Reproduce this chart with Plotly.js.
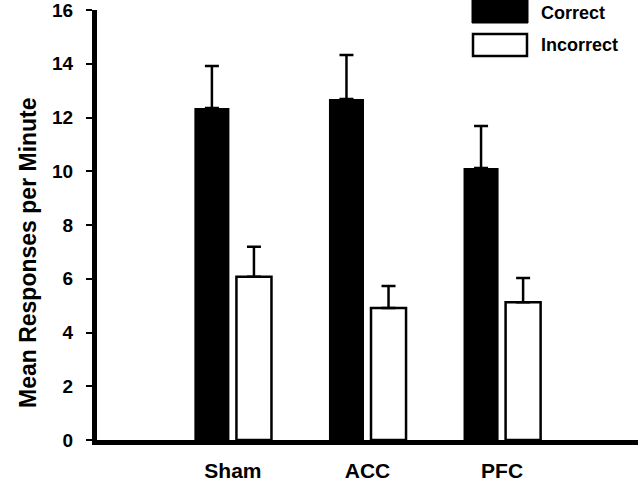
<!DOCTYPE html>
<html>
<head>
<meta charset="utf-8">
<script src="https://cdn.plot.ly/plotly-3.0.1.min.js"></script>
<style>html,body{margin:0;padding:0;background:#fff;}#chart{width:640px;height:484px;}</style>
</head>
<body>
<div id="chart"></div>
<script>
const categories = ["Sham", "ACC", "PFC"];
const seriesNames = ["Correct", "Incorrect"];
const correctMeans = [12.35, 12.69, 10.12];
const correctSE = [1.57, 1.64, 1.56];
const incorrectMeans = [6.07, 4.91, 5.13];
const incorrectSE = [1.12, 0.82, 0.90];
const yTicks = [0, 2, 4, 6, 8, 10, 12, 14, 16];

const FONT = "Liberation Sans, Arial, Helvetica, sans-serif";
const errStyle = {type: "data", symmetric: false, thickness: 2.5, width: 7, color: "#000"};

const traces = [
  {
    type: "bar", name: seriesNames[0], x: categories, y: correctMeans,
    marker: {color: "#000", line: {color: "#000", width: 0}},
    error_y: Object.assign({array: correctSE, arrayminus: correctSE.map(() => 0)}, errStyle),
    showlegend: false
  },
  {
    type: "bar", name: seriesNames[1], x: categories, y: incorrectMeans,
    marker: {color: "#fff", line: {color: "#000", width: 2.5}},
    error_y: Object.assign({array: incorrectSE, arrayminus: incorrectSE.map(() => 0)}, errStyle),
    showlegend: false
  }
];

// pixel helpers for legend placement (plot area: x 97..638, y 10..440)
const L = 97, R = 2, T = 10, B = 44, W = 640 - L - R, H = 484 - T - B;
const px = v => (v - L) / W;
const py = v => (440 - v) / H;

const layout = {
  width: 640, height: 484,
  margin: {l: L, r: R, t: T, b: B},
  paper_bgcolor: "#fff", plot_bgcolor: "#fff",
  barmode: "group", bargap: 0.375, bargroupgap: 0.167,
  showlegend: false,
  font: {family: FONT, color: "#000"},
  xaxis: {
    type: "category", range: [-1.01, 3.01],
    showline: true, linecolor: "#000", linewidth: 5,
    ticks: "", showgrid: false, zeroline: false,
    tickfont: {family: FONT, size: 21, weight: "bold", color: "#000"},
    ticklabelstandoff: 8
  },
  yaxis: {
    range: [0, 16], tickvals: yTicks, ticktext: yTicks.map(String),
    showline: true, linecolor: "#000", linewidth: 5,
    ticks: "outside", ticklen: 6, tickwidth: 2, tickcolor: "#000",
    showgrid: false, zeroline: false,
    tickfont: {family: FONT, size: 19, weight: "bold", color: "#000"},
    ticklabelstandoff: 9, ticklabeloverflow: "allow"
  },
  shapes: [
    {type: "rect", xref: "paper", yref: "paper", x0: px(472), x1: px(528), y0: py(23), y1: py(0),
     fillcolor: "#000", line: {color: "#000", width: 1}},
    {type: "rect", xref: "paper", yref: "paper", x0: px(473), x1: px(527), y0: py(56), y1: py(34),
     fillcolor: "#fff", line: {color: "#000", width: 2.5}}
  ],
  annotations: [
    {text: "Mean Responses per Minute", textangle: -90, xref: "paper", yref: "paper",
     x: px(28), y: py(253), xanchor: "center", yanchor: "middle", showarrow: false,
     font: {family: FONT, size: 23, weight: "bold", color: "#000"}},
    {text: seriesNames[0], xref: "paper", yref: "paper", x: px(539), y: py(13),
     xanchor: "left", yanchor: "middle", showarrow: false,
     font: {family: FONT, size: 18, weight: "bold", color: "#000"}},
    {text: seriesNames[1], xref: "paper", yref: "paper", x: px(539), y: py(45),
     xanchor: "left", yanchor: "middle", showarrow: false,
     font: {family: FONT, size: 18, weight: "bold", color: "#000"}}
  ]
};

Plotly.newPlot("chart", traces, layout, {displayModeBar: false, staticPlot: true});
</script>
</body>
</html>
